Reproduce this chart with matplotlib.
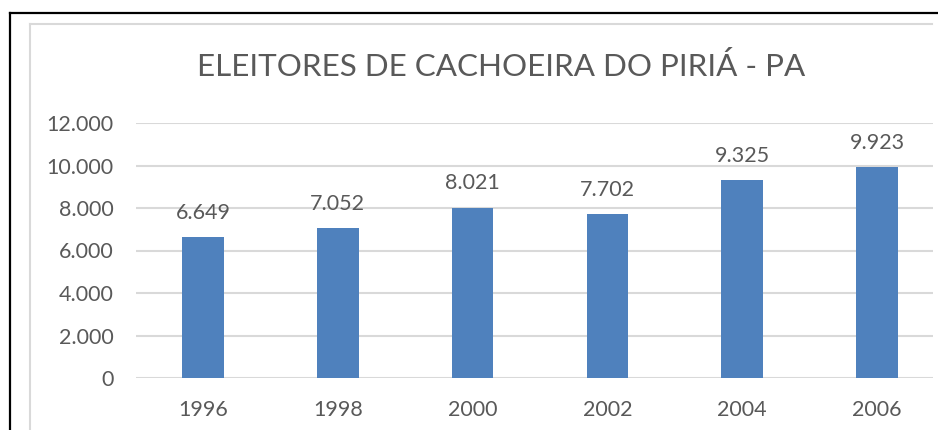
import matplotlib
matplotlib.use('Agg')
import matplotlib.pyplot as plt
from matplotlib.lines import Line2D
from matplotlib.patches import Rectangle
from matplotlib.ticker import FuncFormatter

# Dados: eleitores por ano
anos = ['1996', '1998', '2000', '2002', '2004', '2006']
eleitores = [6649, 7052, 8021, 7702, 9325, 9923]
titulo = 'ELEITORES DE CACHOEIRA DO PIRIÁ - PA'

BAR_COLOR = '#4F81BD'
TEXT_COLOR = '#595959'
GRID_COLOR = '#D9D9D9'

plt.rcParams['font.family'] = ['Lato', 'DejaVu Sans']

W, H = 938, 430
fig = plt.figure(figsize=(W / 100, H / 100), dpi=100)


def fx(px):
    return px / W


def fy(py):
    return 1 - py / H


# plot area in pixel coordinates
left, right, top, bottom = 135.6, 944.4, 123, 378
ax = fig.add_axes([fx(left), fy(bottom), fx(right - left), fy(top) - fy(bottom)])

x = list(range(len(anos)))
ax.bar(x, eleitores, width=0.31, color=BAR_COLOR, zorder=3)

ax.set_xlim(-0.5, len(anos) - 0.5)
ax.set_ylim(0, 12000)
ax.set_yticks(range(0, 12001, 2000))
ax.yaxis.set_major_formatter(FuncFormatter(lambda v, p: f'{int(v):,}'.replace(',', '.')))
ax.set_xticks(x)
ax.set_xticklabels(anos)

ax.grid(axis='y', color=GRID_COLOR, linewidth=1.5, zorder=0)
for s in ax.spines.values():
    s.set_visible(False)
ax.tick_params(axis='both', length=0, labelsize=15.5, labelcolor=TEXT_COLOR)
ax.tick_params(axis='y', pad=16)
ax.tick_params(axis='x', pad=15.5)

# data labels
for xi, v in zip(x, eleitores):
    ax.annotate(f'{v:,}'.replace(',', '.'), (xi, v), xytext=(0, 13),
                textcoords='offset points', ha='center', va='baseline',
                fontsize=15.5, color=TEXT_COLOR)

fig.text(fx(501), fy(66), titulo, ha='center', va='center',
         fontsize=22.6, color=TEXT_COLOR)

# right side of the screenshot is cut off
fig.patches.append(Rectangle((fx(933), 0), fx(10), fy(15), transform=fig.transFigure,
                             facecolor='white', edgecolor='none', zorder=5))

# inner chart area border (gray) and outer frame (black)
fig.lines.append(Line2D([fx(30), fx(30)], [0, fy(24)], transform=fig.transFigure,
                        color=GRID_COLOR, linewidth=1.5, zorder=6))
fig.lines.append(Line2D([fx(30), fx(932)], [fy(24), fy(24)], transform=fig.transFigure,
                        color=GRID_COLOR, linewidth=1.5, zorder=6))
fig.lines.append(Line2D([fx(10), fx(10)], [0, fy(13)], transform=fig.transFigure,
                        color='black', linewidth=1.6, zorder=6))
fig.lines.append(Line2D([fx(10), 1], [fy(13), fy(13)], transform=fig.transFigure,
                        color='black', linewidth=1.6, zorder=6))

fig.savefig('out.png', dpi=100)
